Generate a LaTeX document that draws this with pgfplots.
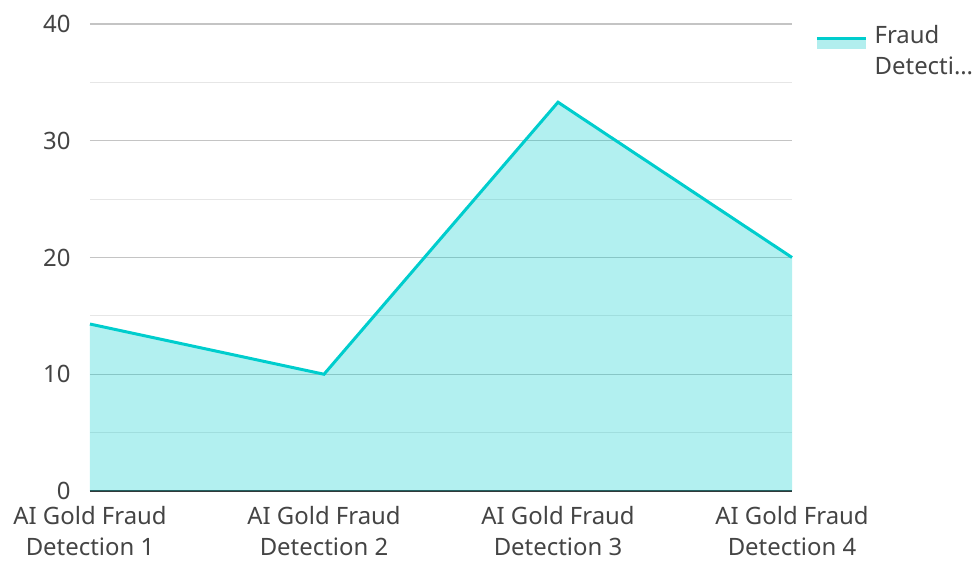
\documentclass[border=0pt]{standalone}
\usepackage{pgfplots}
\pgfplotsset{compat=1.18}
\usepackage{fontspec}
\setmainfont{Noto Sans}
\definecolor{linec}{HTML}{00CDCD}
\definecolor{fillc}{HTML}{B2EEEE}
\definecolor{txt}{HTML}{444444}
\definecolor{majg}{HTML}{C4C4C4}
\definecolor{ming}{HTML}{E6E6E6}
\begin{document}
\begin{tikzpicture}
\begin{axis}[
  at={(0,0)}, anchor=south west,
  scale only axis, width=702bp, height=467bp,
  xmin=0, xmax=3, ymin=0, ymax=40,
  xtick={0,1,2,3},
  xticklabels={{AI Gold Fraud\\Detection 1},{AI Gold Fraud\\Detection 2},{AI Gold Fraud\\Detection 3},{AI Gold Fraud\\Detection 4}},
  xticklabel style={align=center, font=\fontsize{24}{31}\selectfont, text=txt, yshift=-12bp},
  ytick={10,20,30,40},
  minor ytick={5,15,25,35},
  extra y ticks={0},
  extra y tick style={major grid style={draw=black!80, line width=2bp}},
  yticklabel style={font=\fontsize{24}{25}\selectfont, text=txt, xshift=-16bp},
  /pgf/number format/assume math mode=true,
  ymajorgrids, yminorgrids,
  major grid style={majg, line width=1.2bp},
  minor grid style={ming, line width=1.2bp},
  major tick length=0pt, minor tick length=0pt,
  axis line style={draw=none},
  clip=false,
  legend style={at={(1,1)}, anchor=north west, xshift=20bp, yshift=3bp, draw=none, fill=none,
    font=\fontsize{24}{31}\selectfont, text=txt, cells={align=left, anchor=north west}, row sep=0pt,
    /tikz/every odd column/.append style={column sep=5bp}},
  legend cell align=left,
]
\addplot[draw=none, fill=linec, fill opacity=0.3,
  legend image code/.code={
    \fill[fill=fillc, fill opacity=1] (0bp,1bp) rectangle (49bp,12bp);
    \draw[linec, line width=3.5bp] (0bp,12bp) -- (49bp,12bp);
  }]
  coordinates {(0,14.3) (1,10) (2,33.3) (3,20)} \closedcycle;
\addlegendentry{Fraud\\Detecti…}
\addplot[draw=linec, line width=3bp, forget plot] coordinates {(0,14.3) (1,10) (2,33.3) (3,20)};
\end{axis}
\pgfresetboundingbox
\path (-90bp,-72bp) rectangle (888bp,491bp);
\end{tikzpicture}
\end{document}
